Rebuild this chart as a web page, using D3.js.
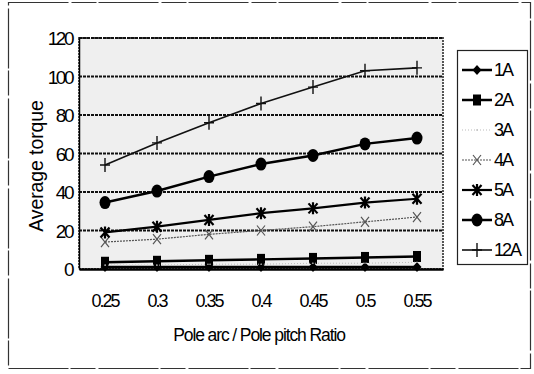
<!DOCTYPE html>
<html>
<head>
<meta charset="utf-8">
<script src="https://cdn.jsdelivr.net/npm/d3@7/dist/d3.min.js"></script>
<style>
  html, body { margin: 0; padding: 0; background: #fff; }
  svg { display: block; }
  text { font-family: "Liberation Sans", Arial, sans-serif; fill: #000; }
</style>
</head>
<body>
<svg id="chart" width="534" height="374"></svg>
<script>
// Pole arc / pole pitch ratio categories
const ratios = ["0.25", "0.3", "0.35", "0.4", "0.45", "0.5", "0.55"];
const yTicks = [0, 20, 40, 60, 80, 100, 120];

// Average torque for each current level
const seriesNames = ["1A", "2A", "3A", "4A", "5A", "8A", "12A"];
const torque1A  = [1, 1, 1, 1, 1, 1, 1];
const torque2A  = [3.5, 4, 4.5, 5, 5.5, 6, 6.5];
const torque3A  = [2, 2, 2.5, 2.5, 3, 3, 3.5];
const torque4A  = [14, 15.5, 18, 20, 22, 24.5, 27];
const torque5A  = [19, 22, 25.5, 29, 31.5, 34.5, 36.5];
const torque8A  = [34.5, 40.5, 48, 54.5, 59, 65, 68];
const torque12A = [54, 65.5, 76, 86, 94.5, 103, 104.5];

const seriesValues = [torque1A, torque2A, torque3A, torque4A, torque5A, torque8A, torque12A];

const svg = d3.select("#chart");

// outer frame
svg.append("rect")
  .attr("x", 8.5).attr("y", 2.5).attr("width", 522).attr("height", 366)
  .attr("fill", "none").attr("stroke", "#333").attr("stroke-width", 1.2)
  .attr("stroke-dasharray", "60 3 25 2");

const plot = { left: 79, top: 38, right: 443, bottom: 269 };

const x = d3.scaleBand().domain(ratios).range([plot.left, plot.right]);
const y = d3.scaleLinear().domain([0, 120]).range([plot.bottom, plot.top]);
const cx = d => x(d) + x.bandwidth() / 2;

// plot background
svg.append("rect")
  .attr("x", plot.left).attr("y", plot.top)
  .attr("width", plot.right - plot.left).attr("height", plot.bottom - plot.top)
  .attr("fill", "#efefef").attr("stroke", "#444").attr("stroke-width", 1.8)
  .attr("stroke-dasharray", "2 1");

// horizontal gridlines
svg.append("g")
  .selectAll("line")
  .data(yTicks.filter(t => t > 0))
  .join("line")
  .attr("x1", plot.left).attr("x2", plot.right)
  .attr("y1", d => y(d)).attr("y2", d => y(d))
  .attr("stroke", "#111").attr("stroke-width", 2)
  .attr("stroke-dasharray", "3 1");

// y axis
const yAxis = svg.append("g")
  .attr("transform", `translate(${plot.left},0)`)
  .call(d3.axisLeft(y).tickValues(yTicks).tickSize(0).tickPadding(7));
yAxis.select(".domain").attr("stroke", "#000").attr("stroke-width", 1.5);
yAxis.selectAll("text")
  .style("font-size", "19px").style("letter-spacing", "-2.5px")
  .attr("dy", "0.36em");

// x axis
const xAxis = svg.append("g")
  .attr("transform", `translate(0,${plot.bottom})`)
  .call(d3.axisBottom(x).tickSize(0).tickPadding(25));
xAxis.select(".domain").attr("stroke", "#000").attr("stroke-width", 2.5);
xAxis.selectAll("text")
  .style("font-size", "18px").style("letter-spacing", "-2px");

// axis titles
svg.append("text")
  .attr("x", 259).attr("y", 341)
  .attr("text-anchor", "middle")
  .style("font-size", "17.5px").style("letter-spacing", "-1.1px")
  .text("Pole arc / Pole pitch Ratio");

svg.append("text")
  .attr("transform", "translate(43,166) rotate(-90)")
  .attr("text-anchor", "middle")
  .style("font-size", "19.5px").style("letter-spacing", "-0.1px")
  .text("Average torque");

// series styles
const styles = {
  "1A":  { stroke: "#000", width: 2.5, dash: null,  marker: "diamond" },
  "2A":  { stroke: "#000", width: 2.5, dash: null,  marker: "square" },
  "3A":  { stroke: "#bbb", width: 1,   dash: "1 2", marker: "dot" },
  "4A":  { stroke: "#555", width: 1.2, dash: "2 1", marker: "cross" },
  "5A":  { stroke: "#000", width: 2.2, dash: null,  marker: "star" },
  "8A":  { stroke: "#000", width: 2.5, dash: null,  marker: "circle" },
  "12A": { stroke: "#111", width: 1.6, dash: null,  marker: "plus" }
};

function drawMarker(g, type, px, py) {
  switch (type) {
    case "diamond":
      g.append("path").attr("d", `M${px},${py - 5}L${px + 4.5},${py}L${px},${py + 5}L${px - 4.5},${py}Z`)
        .attr("fill", "#000");
      break;
    case "square":
      g.append("rect").attr("x", px - 4).attr("y", py - 5.5).attr("width", 8).attr("height", 11)
        .attr("fill", "#000");
      break;
    case "dot":
      g.append("circle").attr("cx", px).attr("cy", py).attr("r", 0.8).attr("fill", "#aaa");
      break;
    case "cross":
      g.append("path").attr("d", `M${px - 4},${py - 5}L${px + 4},${py + 5}M${px + 4},${py - 5}L${px - 4},${py + 5}`)
        .attr("stroke", "#555").attr("stroke-width", 1.2).attr("fill", "none");
      break;
    case "star":
      g.append("path").attr("d",
        `M${px - 4.5},${py - 5}L${px + 4.5},${py + 5}M${px + 4.5},${py - 5}L${px - 4.5},${py + 5}M${px},${py - 6}L${px},${py + 6}`)
        .attr("stroke", "#000").attr("stroke-width", 2.2).attr("fill", "none");
      break;
    case "circle":
      g.append("ellipse").attr("cx", px).attr("cy", py).attr("rx", 5.5).attr("ry", 6.5).attr("fill", "#000");
      break;
    case "plus":
      g.append("path").attr("d", `M${px - 5},${py}L${px + 5},${py}M${px},${py - 7}L${px},${py + 7}`)
        .attr("stroke", "#111").attr("stroke-width", 1.4).attr("fill", "none");
      break;
  }
}

const line = d3.line().x((d, i) => cx(ratios[i])).y(d => y(d));

const seriesG = svg.append("g");
seriesNames.forEach((name, si) => {
  const st = styles[name];
  const vals = seriesValues[si];
  const g = seriesG.append("g");
  g.append("path")
    .datum(vals)
    .attr("d", line)
    .attr("fill", "none")
    .attr("stroke", st.stroke)
    .attr("stroke-width", st.width)
    .attr("stroke-dasharray", st.dash);
  vals.forEach((v, i) => drawMarker(g, st.marker, cx(ratios[i]), y(v)));
});

// legend
const legend = svg.append("g");
legend.append("rect")
  .attr("x", 457.5).attr("y", 50.5).attr("width", 70).attr("height", 214)
  .attr("fill", "#fff").attr("stroke", "#222").attr("stroke-width", 1.2);

seriesNames.forEach((name, i) => {
  const st = styles[name];
  const ly = 70 + i * 30;
  const g = legend.append("g");
  g.append("line")
    .attr("x1", 462).attr("x2", 492).attr("y1", ly).attr("y2", ly)
    .attr("stroke", st.stroke).attr("stroke-width", st.width)
    .attr("stroke-dasharray", st.dash);
  drawMarker(g, st.marker, 477, ly);
  g.append("text")
    .attr("x", 494).attr("y", ly).attr("dy", "0.36em")
    .style("font-size", "18px").style("letter-spacing", "-2px")
    .text(name);
});
</script>
</body>
</html>
